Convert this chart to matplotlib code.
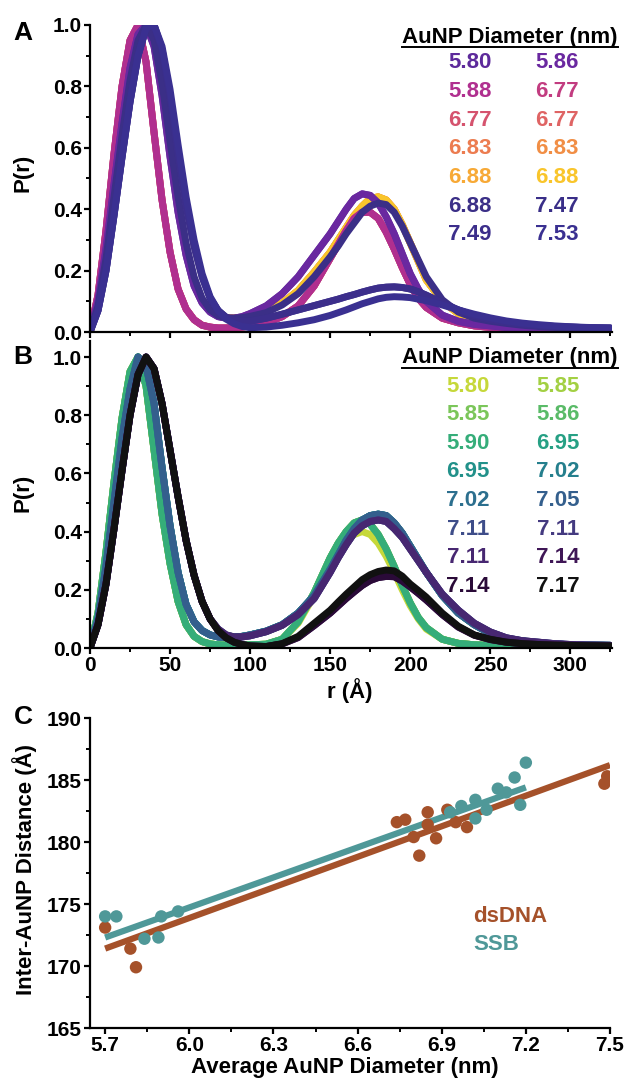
import matplotlib
matplotlib.use("Agg")
import matplotlib.pyplot as plt
from matplotlib.ticker import MultipleLocator, FormatStrFormatter
from matplotlib.lines import Line2D
import numpy as np

plt.rcParams['font.family'] = ['Liberation Sans', 'DejaVu Sans']
plt.rcParams['font.weight'] = 'bold'

# ---------------- data ----------------
# r grid (Angstrom) on which the P(r) curves were read
r_grid = (list(range(0, 101, 5)) + [110, 120, 130, 140] + list(range(150, 211, 5))
          + list(range(220, 311, 10)) + [325])

# Panel A (dsDNA) P(r) profiles
A_purple = [0, 0.10, 0.27, 0.48, 0.68, 0.86, 0.97, 1.00, 0.93, 0.77, 0.57, 0.39, 0.25, 0.15, 0.095, 0.065, 0.05, 0.045, 0.045, 0.05, 0.06,
            0.085, 0.125, 0.18, 0.25,
            0.32, 0.36, 0.40, 0.435, 0.45, 0.445, 0.42, 0.375, 0.32, 0.255, 0.19, 0.14, 0.10,
            0.055, 0.035, 0.025, 0.02, 0.015, 0.012, 0.01, 0.008, 0.007, 0.006, 0.005]
A_magenta = [0, 0.12, 0.33, 0.58, 0.80, 0.95, 1.00, 0.88, 0.65, 0.43, 0.26, 0.14, 0.075, 0.04, 0.022, 0.016, 0.013, 0.013, 0.014, 0.016, 0.02,
             0.03, 0.05, 0.085, 0.15,
             0.24, 0.285, 0.33, 0.37, 0.39, 0.39, 0.37, 0.325, 0.27, 0.21, 0.155, 0.11, 0.08,
             0.045, 0.03, 0.02, 0.015, 0.012, 0.01, 0.009, 0.008, 0.007, 0.006, 0.005]
A_orange = [0, 0.09, 0.25, 0.46, 0.66, 0.84, 0.96, 1.00, 0.94, 0.79, 0.59, 0.41, 0.26, 0.16, 0.10, 0.068, 0.052, 0.046, 0.045, 0.048, 0.053,
            0.068, 0.094, 0.135, 0.195,
            0.26, 0.30, 0.34, 0.38, 0.41, 0.435, 0.44, 0.43, 0.40, 0.35, 0.29, 0.23, 0.17,
            0.10, 0.06, 0.04, 0.03, 0.022, 0.017, 0.013, 0.011, 0.009, 0.008, 0.007]
A_blue = [0, 0.085, 0.24, 0.44, 0.64, 0.82, 0.95, 1.00, 0.95, 0.81, 0.62, 0.44, 0.29, 0.18, 0.11, 0.072, 0.053, 0.046, 0.045, 0.047, 0.051,
          0.063, 0.088, 0.125, 0.18,
          0.245, 0.28, 0.32, 0.355, 0.39, 0.41, 0.42, 0.415, 0.39, 0.345, 0.29, 0.235, 0.18,
          0.105, 0.065, 0.045, 0.035, 0.028, 0.022, 0.018, 0.015, 0.013, 0.011, 0.01]
A_low1 = [0, 0.07, 0.20, 0.38, 0.57, 0.75, 0.90, 0.99, 1.00, 0.92, 0.77, 0.58, 0.41, 0.28, 0.18, 0.11, 0.07, 0.048, 0.038, 0.035, 0.035,
          0.045, 0.058, 0.072, 0.086,
          0.10, 0.107, 0.115, 0.122, 0.13, 0.137, 0.143, 0.146, 0.147, 0.145, 0.14, 0.131, 0.12,
          0.095, 0.072, 0.053, 0.04, 0.031, 0.025, 0.021, 0.018, 0.016, 0.014, 0.013]
A_low2 = [0, 0.07, 0.20, 0.38, 0.57, 0.75, 0.90, 0.99, 1.00, 0.93, 0.79, 0.61, 0.44, 0.30, 0.19, 0.115, 0.07, 0.042, 0.027, 0.018, 0.014,
          0.016, 0.022, 0.03, 0.04,
          0.054, 0.063, 0.072, 0.082, 0.092, 0.10, 0.108, 0.113, 0.115, 0.114, 0.112, 0.107, 0.102,
          0.088, 0.072, 0.058, 0.046, 0.036, 0.029, 0.024, 0.02, 0.017, 0.015, 0.013]

A_diam = ['5.80', '5.86', '5.88', '6.77', '6.77', '6.77', '6.83', '6.83', '6.88', '6.88', '6.88', '7.47', '7.49', '7.53']
A_colors = ['#5d2a9b', '#6a28a0', '#b02f8f', '#c23c80', '#d5536e', '#df6464', '#ec7c50', '#f18e45',
            '#f7a936', '#f9c52b', '#3b2f87', '#392e88', '#3c2e8b', '#3a3091']
A_curves = [A_purple, A_purple, A_magenta, A_magenta, A_magenta, A_magenta, A_orange, A_orange,
            A_orange, A_orange, A_blue, A_low1, A_low1, A_low2]
A_draw_order = [6, 7, 8, 9, 5, 4, 3, 2, 0, 1, 10, 11, 12, 13]

# Panel B (SSB) P(r) profiles
B_yellow = [0, 0.12, 0.33, 0.57, 0.79, 0.95, 1.00, 0.90, 0.68, 0.46, 0.29, 0.16, 0.08, 0.04, 0.022, 0.014, 0.011, 0.01, 0.01, 0.01, 0.011,
            0.013, 0.03, 0.085, 0.18,
            0.29, 0.335, 0.37, 0.39, 0.40, 0.39, 0.36, 0.315, 0.26, 0.20, 0.145, 0.10, 0.065,
            0.03, 0.016, 0.011, 0.009, 0.008, 0.007, 0.007, 0.006, 0.006, 0.005, 0.005]
B_green = [0, 0.12, 0.33, 0.57, 0.79, 0.95, 1.00, 0.90, 0.68, 0.46, 0.29, 0.16, 0.08, 0.04, 0.022, 0.014, 0.011, 0.01, 0.01, 0.01, 0.011,
           0.013, 0.03, 0.09, 0.19,
           0.31, 0.36, 0.40, 0.43, 0.44, 0.425, 0.39, 0.34, 0.28, 0.215, 0.155, 0.105, 0.07,
           0.03, 0.016, 0.011, 0.009, 0.008, 0.007, 0.007, 0.006, 0.006, 0.005, 0.005]
B_teal = [0, 0.10, 0.28, 0.50, 0.72, 0.89, 1.00, 0.97, 0.84, 0.62, 0.42, 0.26, 0.15, 0.09, 0.06, 0.045, 0.038, 0.036, 0.037, 0.04, 0.045,
          0.058, 0.08, 0.12, 0.18,
          0.27, 0.32, 0.37, 0.41, 0.44, 0.455, 0.46, 0.455, 0.43, 0.395, 0.35, 0.305, 0.26,
          0.18, 0.12, 0.08, 0.05, 0.033, 0.024, 0.018, 0.014, 0.011, 0.01, 0.009]
B_purple = [0, 0.08, 0.22, 0.41, 0.61, 0.80, 0.94, 1.00, 0.96, 0.84, 0.68, 0.52, 0.37, 0.25, 0.16, 0.10, 0.065, 0.045, 0.038, 0.038, 0.042,
            0.056, 0.078, 0.115, 0.17,
            0.26, 0.31, 0.355, 0.395, 0.42, 0.435, 0.44, 0.435, 0.41, 0.38, 0.34, 0.30, 0.26,
            0.185, 0.13, 0.085, 0.055, 0.035, 0.025, 0.02, 0.015, 0.012, 0.01, 0.009]
B_dark = [0, 0.08, 0.22, 0.41, 0.61, 0.80, 0.94, 1.00, 0.96, 0.84, 0.68, 0.52, 0.37, 0.25, 0.16, 0.10, 0.06, 0.035, 0.02, 0.012, 0.007,
          0.005, 0.014, 0.036, 0.077,
          0.12, 0.145, 0.17, 0.193, 0.215, 0.232, 0.242, 0.246, 0.245, 0.23, 0.21, 0.188, 0.165,
          0.115, 0.072, 0.044, 0.029, 0.02, 0.015, 0.012, 0.01, 0.009, 0.008, 0.007]
B_black = [0, 0.08, 0.22, 0.41, 0.61, 0.80, 0.94, 1.00, 0.96, 0.84, 0.68, 0.52, 0.37, 0.25, 0.16, 0.10, 0.06, 0.035, 0.02, 0.012, 0.007,
           0.005, 0.015, 0.04, 0.085,
           0.13, 0.158, 0.185, 0.21, 0.235, 0.252, 0.263, 0.268, 0.265, 0.247, 0.22, 0.198, 0.175,
           0.12, 0.075, 0.045, 0.03, 0.02, 0.015, 0.012, 0.01, 0.009, 0.008, 0.007]

B_diam = ['5.80', '5.85', '5.85', '5.86', '5.90', '6.95', '6.95', '7.02', '7.02', '7.05', '7.11', '7.11', '7.11', '7.14', '7.14', '7.17']
B_colors = ['#c6d83a', '#a3d043', '#7bc65a', '#5abb68', '#35ad79', '#26a084', '#22918a', '#257f8d',
            '#2c6f8e', '#345f8d', '#3e4d89', '#443a80', '#472771', '#3f1656', '#2a0a38', '#111111']
B_curves = [B_yellow, B_green, B_green, B_green, B_green, B_teal, B_teal, B_teal,
            B_teal, B_teal, B_purple, B_purple, B_purple, B_dark, B_dark, B_black]
B_draw_order = list(range(16))

# Panel C scatter
ds_x = [5.70, 5.79, 5.81, 6.74, 6.77, 6.80, 6.82, 6.85, 6.85, 6.88, 6.92, 6.95, 6.99, 7.48, 7.49]
ds_y = [173.1, 171.4, 169.9, 181.6, 181.8, 180.4, 178.9, 182.4, 181.4, 180.3, 182.6, 181.6, 181.2, 184.7, 185.3]
ssb_x = [5.70, 5.74, 5.84, 5.89, 5.90, 5.96, 6.93, 6.97, 7.02, 7.02, 7.06, 7.10, 7.13, 7.16, 7.18, 7.20]
ssb_y = [174.0, 174.0, 172.2, 172.3, 174.0, 174.4, 182.4, 182.9, 183.4, 181.9, 182.6, 184.3, 184.0, 185.2, 183.0, 186.4]
ds_fit = [8.22, 124.55]      # slope, intercept
ssb_fit = [8.07, 126.3]
ds_fit_range = [5.70, 7.50]
ssb_fit_range = [5.70, 7.20]

ds_color = '#a5512a'
ssb_color = '#4f9898'

# ---------------- figure ----------------
W, H = 626, 1082
fig = plt.figure(figsize=(W / 100, H / 100), dpi=100)


def fr(x0, y0, x1, y1):
    return [x0 / W, 1 - y1 / H, (x1 - x0) / W, (y1 - y0) / H]


TICK_FS = 15
LAB_FS = 16


def style_axes(ax):
    for s in ['top', 'right']:
        ax.spines[s].set_visible(False)
    for s in ['left', 'bottom']:
        ax.spines[s].set_linewidth(1.6)
    ax.tick_params(which='major', direction='out', length=4, width=1.6, labelsize=TICK_FS, pad=2)
    ax.tick_params(which='minor', direction='out', length=3, width=1.4)
    for lab in ax.get_xticklabels() + ax.get_yticklabels():
        lab.set_fontweight('bold')


axA = fig.add_axes(fr(90, 25, 612, 332))
axB = fig.add_axes(fr(90, 341, 612, 648))
axC = fig.add_axes(fr(90, 718, 610, 1028))

for ax, curves, colors, order in [(axA, A_curves, A_colors, A_draw_order),
                                  (axB, B_curves, B_colors, B_draw_order)]:
    for i in order:
        ax.plot(r_grid, curves[i], color=colors[i], lw=5, solid_capstyle='round', solid_joinstyle='round')
    ax.set_xlim(0, 326)
    ax.xaxis.set_major_locator(MultipleLocator(50))
    ax.xaxis.set_minor_locator(MultipleLocator(25))
    ax.yaxis.set_major_locator(MultipleLocator(0.2))
    ax.yaxis.set_minor_locator(MultipleLocator(0.1))
    ax.yaxis.set_major_formatter(FormatStrFormatter('%.1f'))
    ax.set_ylabel('P(r)', fontsize=LAB_FS, fontweight='bold')
    ax.yaxis.label.set_va('center')
    style_axes(ax)

axA.set_ylim(0, 1.0)
axA.tick_params(axis='x', labelbottom=False)
axA.yaxis.set_label_coords(-0.128, 0.518)
axB.set_ylim(0, 1.055)
axB.yaxis.set_label_coords(-0.128, 0.505)
axB.set_xlabel('r (Å)', fontsize=LAB_FS, fontweight='bold')
axB.xaxis.label.set_va('center')
axB.xaxis.set_label_coords(0.498, -0.137)

# Panel C
xs = np.array(ds_fit_range)
axC.plot(xs, ds_fit[0] * xs + ds_fit[1], color=ds_color, lw=4.5, solid_capstyle='butt', zorder=2)
xs2 = np.array(ssb_fit_range)
axC.plot(xs2, ssb_fit[0] * xs2 + ssb_fit[1], color=ssb_color, lw=4.5, solid_capstyle='butt', zorder=2)
axC.scatter(ds_x, ds_y, s=80, color=ds_color, edgecolors='none', zorder=3)
axC.scatter(ssb_x, ssb_y, s=80, color=ssb_color, edgecolors='none', zorder=3)
axC.set_xlim(5.646, 7.5)
axC.set_ylim(165, 190)
axC.xaxis.set_major_locator(MultipleLocator(0.3))
axC.xaxis.set_minor_locator(MultipleLocator(0.15))
axC.xaxis.set_major_formatter(FormatStrFormatter('%.1f'))
axC.yaxis.set_major_locator(MultipleLocator(5))
axC.yaxis.set_minor_locator(MultipleLocator(2.5))
axC.set_xlabel('Average AuNP Diameter (nm)', fontsize=LAB_FS, fontweight='bold')
axC.xaxis.label.set_va('center')
axC.xaxis.set_label_coords(0.49, -0.129)
axC.set_ylabel('Inter-AuNP Distance (Å)', fontsize=LAB_FS, fontweight='bold')
axC.yaxis.label.set_va('center')
axC.yaxis.set_label_coords(-0.125, 0.51)
style_axes(axC)
axC.set_xticks([5.7, 6.0, 6.3, 6.6, 6.9, 7.2, 7.5])


def ftext(px, py, s, **kw):
    return fig.text(px / W, 1 - py / H, s, **kw)


# panel letters
for letter, py in [('A', 33), ('B', 357), ('C', 717)]:
    ftext(23, py, letter, fontsize=19, fontweight='bold', ha='center', va='center')

# legends for A and B
headers = []
for hy, row0, col1, col2, diams, colors in [(37, 63, 470, 557, A_diam, A_colors),
                                            (358, 386, 468, 558, B_diam, B_colors)]:
    t = ftext(510, hy, 'AuNP Diameter (nm)', fontsize=LAB_FS, fontweight='bold', ha='center', va='center')
    headers.append(t)
    for i, (d, c) in enumerate(zip(diams, colors)):
        row, col = divmod(i, 2)
        cx = col1 if col == 0 else col2
        ftext(cx, row0 + row * 28.6, d, fontsize=LAB_FS, fontweight='bold', color=c, ha='center', va='center')

# legend for C
ftext(473, 917, 'dsDNA', fontsize=LAB_FS, fontweight='bold', color=ds_color, ha='left', va='center')
ftext(473, 945, 'SSB', fontsize=LAB_FS, fontweight='bold', color=ssb_color, ha='left', va='center')

# underline the headers
fig.canvas.draw()
inv = fig.transFigure.inverted()
for t in headers:
    bb = t.get_window_extent()
    (x0, y0), (x1, _) = inv.transform([[bb.x0, bb.y0 + 1], [bb.x1, bb.y0 + 1]])
    fig.add_artist(Line2D([x0, x1], [y0, y0], color='black', lw=1.4, transform=fig.transFigure))

fig.savefig('out.png', dpi=100)
